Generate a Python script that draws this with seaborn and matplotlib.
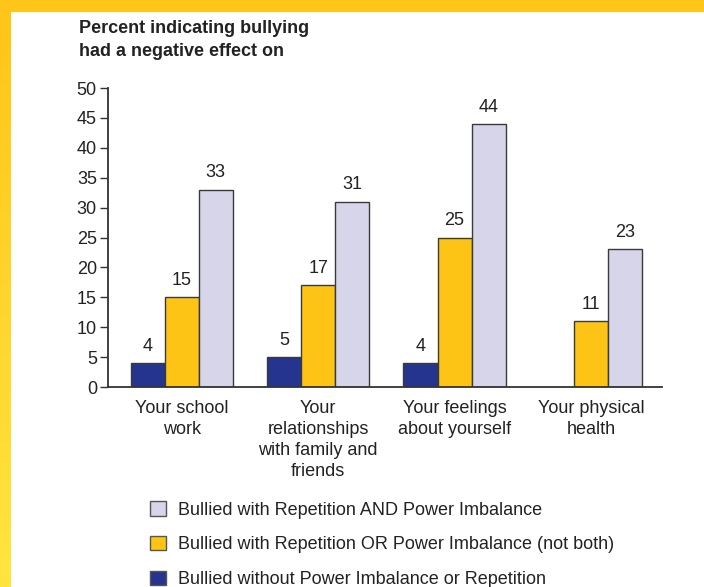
import numpy as np
import pandas as pd
import matplotlib
matplotlib.use("Agg")
import matplotlib.pyplot as plt
from matplotlib.patches import Rectangle, Patch
from matplotlib.colors import LinearSegmentedColormap
import seaborn as sns

categories = ["Your school\nwork", "Your\nrelationships\nwith family and\nfriends",
              "Your feelings\nabout yourself", "Your physical\nhealth"]
series_names = ["Bullied without Power Imbalance or Repetition",
                "Bullied with Repetition OR Power Imbalance (not both)",
                "Bullied with Repetition AND Power Imbalance"]
without_both = [4, 5, 4, np.nan]
rep_or_power = [15, 17, 25, 11]
rep_and_power = [33, 31, 44, 23]
colors = ["#25348E", "#FDC315", "#D6D5E9"]
yticks = [0, 5, 10, 15, 20, 25, 30, 35, 40, 45, 50]

rows = []
for name, vals in zip(series_names, [without_both, rep_or_power, rep_and_power]):
    for c, v in zip(categories, vals):
        rows.append({"category": c, "series": name, "value": v})
df = pd.DataFrame(rows)

sns.set_style("white")
plt.rcParams["font.family"] = ["Liberation Sans", "DejaVu Sans"]

fig = plt.figure(figsize=(7.04, 5.87), dpi=100)
fig.patch.set_facecolor("white")

# yellow frame: top band and left gradient band
fig.add_artist(Rectangle((0, 1 - 12 / 587), 1, 12 / 587, transform=fig.transFigure,
                         facecolor="#FFC518", edgecolor="none", zorder=0))
gax = fig.add_axes([0, 0, 11 / 704, 1 - 12 / 587])
grad = np.linspace(0, 1, 256).reshape(-1, 1)
cmap = LinearSegmentedColormap.from_list("yl", ["#FFE540", "#FFC518"])
gax.imshow(grad, aspect="auto", cmap=cmap, origin="lower")
gax.set_axis_off()

ax = fig.add_axes([108 / 704, 200 / 587, (662 - 108) / 704, (499 - 200) / 587])
sns.barplot(data=df, x="category", y="value", hue="series", hue_order=series_names,
            order=categories, palette=colors, width=0.75, edgecolor="#3a3a3a",
            linewidth=1.0, ax=ax, legend=False, saturation=1)

for cont in ax.containers:
    ax.bar_label(cont, fmt="%g", padding=6, fontsize=13, color="#222222")

ax.set_ylim(0, 50)
ax.set_xlim(-0.54, 3.52)
ax.set_yticks(yticks)
ax.set_xlabel("")
ax.set_ylabel("")
for s in ["top", "right"]:
    ax.spines[s].set_visible(False)
for s in ["left", "bottom"]:
    ax.spines[s].set_color("#333333")
    ax.spines[s].set_linewidth(1.3)
ax.tick_params(axis="y", which="major", left=True, length=6, width=1, color="#333333",
               labelsize=13, labelcolor="#222222", pad=2)
ax.tick_params(axis="x", bottom=False, labelsize=13, labelcolor="#222222", pad=6)
for lbl in ax.get_xticklabels():
    lbl.set_verticalalignment("top")
    lbl.set_linespacing(1.3)

fig.text(79 / 704, 1 - 40 / 587, "Percent indicating bullying\nhad a negative effect on",
         fontsize=13, fontweight="bold", color="#222222", va="center", ha="left",
         linespacing=1.4)

handles = [Patch(facecolor=colors[i], edgecolor="#555555", linewidth=1.0, label=series_names[i])
           for i in [2, 1, 0]]
fig.legend(handles=handles, loc="upper left", bbox_to_anchor=(134 / 704, 1 - 485 / 587),
           frameon=False, fontsize=13, handlelength=0.85, handleheight=0.85,
           handletextpad=0.7, labelspacing=0.96, labelcolor="#222222")

fig.savefig("out.png", dpi=100, facecolor="white")
